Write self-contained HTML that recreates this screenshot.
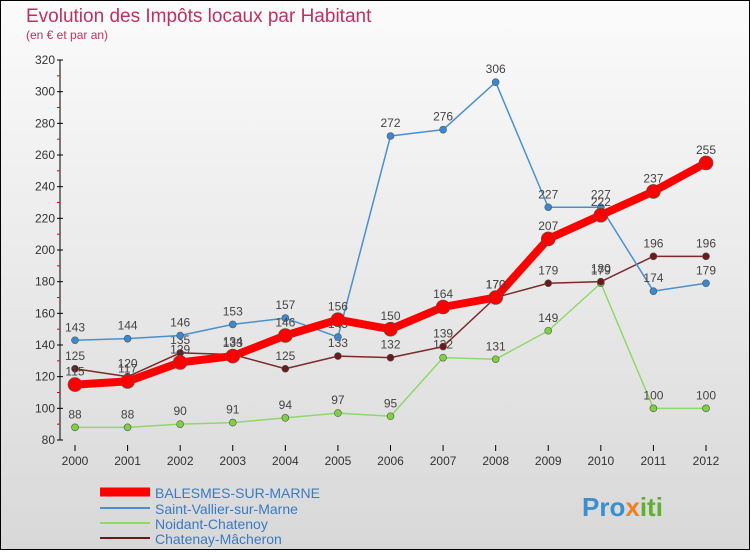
<!DOCTYPE html>
<html><head><meta charset="utf-8"><style>
body{margin:0}
#c{width:750px;height:550px;position:relative;font-family:"Liberation Sans",sans-serif;}
</style></head><body>
<div id="c">
<svg width="750" height="550" xmlns="http://www.w3.org/2000/svg" id="s">
<defs><linearGradient id="bg" x1="0" y1="0" x2="0" y2="1"><stop offset="0" stop-color="#fbfbfb"/><stop offset="1" stop-color="#d8d8d8"/></linearGradient></defs>
<rect x="0.5" y="0.5" width="749" height="549" fill="url(#bg)" stroke="#000"/>
<text x="26" y="22" font-size="19" fill="#c0305f">Evolution des Impôts locaux par Habitant</text>
<text x="26" y="39" font-size="12" fill="#c0305f">(en € et par an)</text>
<g id="axes"></g><g id="series"></g>
<g>
<line x1="100" y1="492" x2="150" y2="492" stroke="#f00" stroke-width="9"/>
<text x="155" y="498" font-size="14" fill="#3a7ac0">BALESMES-SUR-MARNE</text>
<line x1="100" y1="508" x2="150" y2="508" stroke="#4a90d0" stroke-width="2"/>
<text x="155" y="514" font-size="14" fill="#3a7ac0">Saint-Vallier-sur-Marne</text>
<line x1="100" y1="523" x2="150" y2="523" stroke="#8fd86a" stroke-width="2"/>
<text x="155" y="529" font-size="14" fill="#3a7ac0">Noidant-Chatenoy</text>
<line x1="100" y1="538" x2="150" y2="538" stroke="#6b1a1a" stroke-width="2"/>
<text x="155" y="544" font-size="14" fill="#3a7ac0">Chatenay-Mâcheron</text>
</g>
<text x="582" y="516" font-size="26" font-weight="bold" fill="#3a8fd0">Pro<tspan fill="#f08020">x</tspan><tspan fill="#60b030">iti</tspan></text>
</svg></div>
<script>
const years=[2000,2001,2002,2003,2004,2005,2006,2007,2008,2009,2010,2011,2012];
const yTicks=[80,100,120,140,160,180,200,220,240,260,280,300,320];
const balesmes=[115,117,129,133,146,156,150,164,170,207,222,237,255];
const vallier=[143,144,146,153,157,145,272,276,306,227,227,174,179];
const noidant=[88,88,90,91,94,97,95,132,131,149,179,100,100];
const chatenay=[125,120,135,134,125,133,132,139,170,179,180,196,196];
const NS="http://www.w3.org/2000/svg";
function X(i){return 75+i*(706-75)/12;}
function Y(v){return 440-(v-80)*380/240;}
function mk(t,a,p){const e=document.createElementNS(NS,t);for(const k in a)e.setAttribute(k,a[k]);p.appendChild(e);return e;}
const ax=document.getElementById('axes');
const yl=mk('line',{x1:60,y1:60,x2:60,y2:440,stroke:'#000'},ax);


const yMax=yTicks[yTicks.length-1];
yTicks.forEach(v=>{
 const tk=mk('line',{x1:57,y1:Y(v),x2:63,y2:Y(v),stroke:'#000'},ax);
 
 
 if(v<yMax){
  const m=mk('line',{x1:57,y1:Y(v+10),x2:60,y2:Y(v+10),stroke:'#e00'},ax);
  
  
 }
 const t=mk('text',{x:55,y:Y(v)+4,'text-anchor':'end','font-size':12,fill:'#333'},ax);
 t.textContent=v;
 
 
});
years.forEach((y,i)=>{
 const tk=mk('line',{x1:X(i),y1:445,x2:X(i),y2:451,stroke:'#000'},ax);
 
 
 const t=mk('text',{x:X(i),y:465,'text-anchor':'middle','font-size':12,fill:'#333'},ax);
 t.textContent=y;
 
 
});
const sg=document.getElementById('series');
function draw(d,name,col,w,r,fill){
 const g=mk('g',{},sg);
 
 
 const pl=mk('polyline',{points:d.map((v,i)=>X(i)+','+Y(v)).join(' '),fill:'none',stroke:col,'stroke-width':w,'stroke-linejoin':'round'},g);
 
 
 d.forEach((v,i)=>{
  const c=mk('circle',{cx:X(i),cy:Y(v),r:r,fill:fill,stroke:'#555','stroke-width':0.6},g);
  
  
  const t=mk('text',{x:X(i),y:Y(v)-9,'text-anchor':'middle','font-size':12,fill:'#444'},g);
  t.textContent=v;
  
  
 });
}
draw(noidant,'noidant-series','#8fd86a',1.5,3.5,'#7fd040');
draw(chatenay,'chatenay-series','#7a2a2a',1.5,3.5,'#6b1a1a');
draw(vallier,'saint-vallier-series','#4a90d0',1.5,3.5,'#3a88d0');
draw(balesmes,'balesmes-series','#f00',8,7,'#f00');
</script>
</body></html>
